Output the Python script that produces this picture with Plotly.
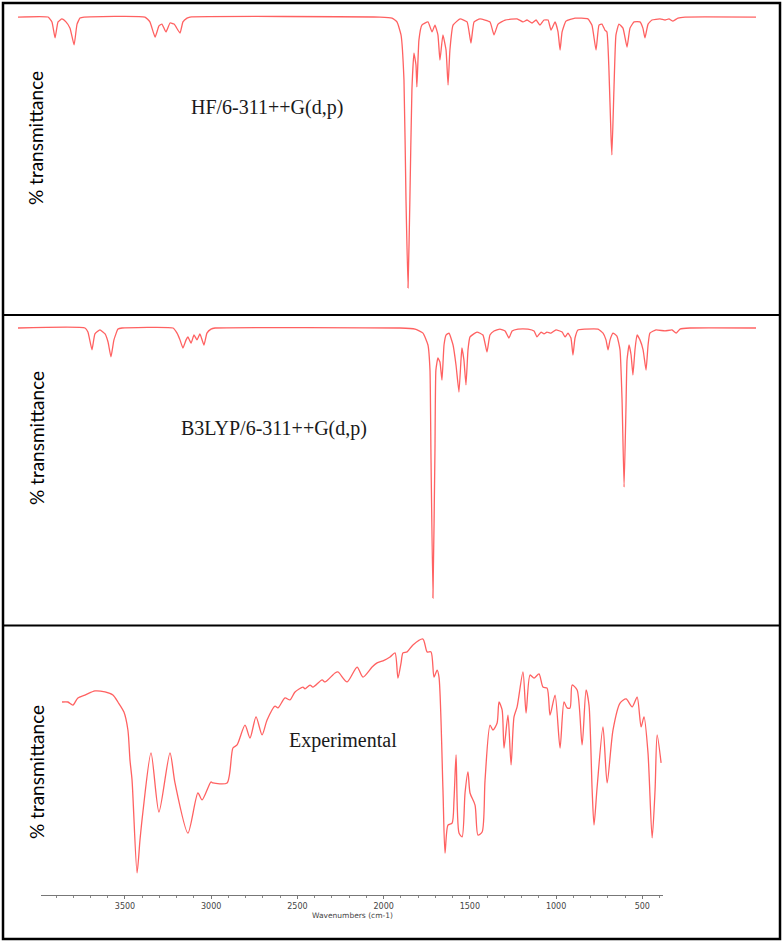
import plotly.graph_objects as go

W, H = 784, 942

# HF/6-311++G(d,p) computed spectrum: wavenumber (cm-1) and % transmittance
hf_wavenumber = [4000, 3837, 3816, 3799, 3783, 3762, 3740, 3718, 3696, 3680, 3664, 3642,
                 3312, 3285, 3257, 3236, 3220, 3198, 3176, 3154, 3122, 3106, 3084, 3068,
                 2038, 1973, 1946, 1924, 1908, 1897, 1886, 1876, 1865, 1854, 1843, 1838,
                 1827, 1811, 1778, 1756, 1740, 1724, 1713, 1697, 1680, 1669, 1659, 1642,
                 1604, 1566, 1545, 1528, 1496, 1442, 1420, 1398, 1360, 1295, 1263, 1241,
                 1214, 1192, 1171, 1149, 1127, 1111, 1089, 1073, 1062, 1051, 1030, 981,
                 911, 889, 867, 851, 835, 819, 808, 797, 786, 781, 770, 759, 743, 721,
                 699, 683, 661, 629, 613, 602, 585, 564, 520, 493, 472, 450, 423, 385, 0]
hf_transmittance = [100, 100, 98.2, 92.3, 98.2, 99.3, 98.2, 95.9, 89.7, 97.4, 99.6, 100,
                    100, 98.2, 92.6, 96.7, 97.4, 94.5, 97.8, 97.4, 94.1, 98.2, 99.6, 100,
                    100, 99.6, 98.2, 93.4, 76.8, 32.5, 0, 32.5, 73.1, 86.7, 82.3, 74.2,
                    91.5, 97.0, 98.2, 94.5, 97.0, 93.4, 84.1, 93.4, 87.8, 74.9, 87.8, 97.0,
                    99.3, 98.2, 90.4, 98.2, 99.3, 98.2, 93.4, 97.4, 98.9, 99.3, 98.2, 98.9,
                    97.8, 98.9, 97.0, 98.9, 98.9, 95.2, 98.2, 94.5, 87.8, 94.5, 98.5, 99.6,
                    99.3, 97.0, 87.8, 97.0, 97.4, 95.2, 94.5, 80.4, 56.5, 49.1, 73.1, 93.4, 97.4, 95.9,
                    88.9, 95.9, 98.2, 98.2, 95.9, 92.3, 97.4, 98.9, 99.3, 98.9, 99.3, 98.5, 99.6, 100, 100]

# B3LYP/6-311++G(d,p) computed spectrum
b3lyp_wavenumber = [4000, 3637, 3621, 3599, 3583, 3556, 3528, 3512, 3496, 3480, 3458, 3436,
                    3160, 3138, 3122, 3106, 3089, 3079, 3062, 3046, 3030, 3014, 2992, 2976,
                    2954, 2932, 1930, 1848, 1805, 1778, 1767, 1762, 1751, 1740, 1735, 1724,
                    1713, 1702, 1691, 1680, 1664, 1642, 1626, 1610, 1599, 1594, 1583, 1572,
                    1561, 1550, 1512, 1480, 1458, 1442, 1420, 1388, 1360, 1339, 1322, 1290,
                    1236, 1203, 1187, 1165, 1149, 1133, 1111, 1084, 1051, 1035, 1019, 1003,
                    992, 981, 965, 927, 856, 829, 813, 802, 791, 775, 754, 737, 726, 715,
                    705, 699, 688, 677, 667, 656, 645, 629, 612, 596, 585, 575, 542, 493,
                    455, 433, 412, 358, 0]
b3lyp_transmittance = [100, 100, 98.5, 91.9, 97.8, 99.3, 97.8, 94.8, 89.3, 95.6, 99.6, 100,
                       100, 98.1, 95.6, 92.6, 95.6, 96.7, 94.4, 97.4, 95.6, 97.8, 93.7, 98.1,
                       99.6, 100, 100, 99.6, 98.1, 93.7, 84.4, 54.8, 0, 54.8, 84.4, 88.9,
                       87.4, 80.7, 93.7, 97.4, 98.1, 93.7, 86.3, 76.3, 88.1, 92.6, 88.1, 78.9,
                       91.9, 96.7, 98.5, 97.4, 91.1, 97.4, 98.9, 99.6, 98.9, 96.3, 98.9, 99.6,
                       99.6, 98.9, 96.7, 98.5, 97.8, 98.5, 98.1, 99.3, 98.5, 96.7, 98.1, 96.3,
                       90.0, 96.3, 99.3, 99.6, 99.6, 98.1, 95.6, 91.9, 95.6, 98.1, 97.0, 91.9, 73.3, 41.1,
                       69.6, 88.1, 93.7, 90.0, 82.6, 91.9, 97.4, 95.6, 91.9, 84.4, 93.7, 98.1, 99.3, 98.9,
                       99.3, 98.1, 99.6, 100, 100]

# Experimental FT-IR spectrum
exp_wavenumber = [3865, 3831, 3802, 3773, 3732, 3674, 3616, 3570, 3541, 3506, 3483, 3471,
                  3459, 3430, 3413, 3396, 3349, 3303, 3239, 3210, 3135, 3077, 3053, 3001,
                  2990, 2908, 2874, 2850, 2804, 2775, 2740, 2705, 2676, 2630, 2613, 2572,
                  2543, 2514, 2468, 2456, 2427, 2410, 2357, 2340, 2282, 2265, 2212, 2154,
                  2120, 2067, 2038, 2004, 1963, 1934, 1917, 1899, 1888, 1864, 1830, 1772,
                  1748, 1725, 1708, 1690, 1679, 1656, 1644, 1627, 1603, 1592, 1580, 1563,
                  1545, 1528, 1511, 1499, 1470, 1453, 1429, 1412, 1383, 1366, 1342, 1331,
                  1313, 1302, 1279, 1261, 1244, 1226, 1192, 1174, 1151, 1128, 1099, 1076,
                  1052, 1035, 1006, 977, 954, 936, 919, 907, 878, 849, 826, 809, 791, 780,
                  762, 728, 704, 670, 629, 594, 559, 530, 507, 490, 467, 443, 426, 414, 391]
exp_transmittance = [75.1, 75.1, 73.9, 76.7, 77.8, 79.4, 79.0, 77.8, 75.1, 71.2, 64.2, 52.5,
                     44.7, 8.6, 21.4, 32.3, 55.3, 32.3, 55.3, 43.6, 24.1, 39.7, 37.0, 44.0,
                     43.6, 43.6, 57.2, 58.4, 66.1, 61.1, 69.3, 62.3, 68.1, 73.5, 72.8, 76.7,
                     75.9, 79.0, 80.9, 80.2, 81.7, 80.9, 83.7, 82.9, 86.4, 86.8, 82.9, 88.7,
                     84.8, 88.7, 90.3, 91.1, 92.6, 94.2, 84.4, 90.3, 94.2, 94.6, 97.3, 99.6,
                     94.6, 94.6, 84.8, 87.5, 84.8, 40.9, 16.3, 27.2, 28.0, 37.0, 54.5, 24.1,
                     22.6, 39.7, 47.9, 39.7, 35.0, 23.3, 24.5, 44.7, 66.1, 64.2, 66.9, 75.1,
                     72.0, 57.2, 70.0, 50.6, 69.3, 73.2, 86.8, 70.8, 85.6, 84.4, 86.0, 80.9,
                     80.5, 70.0, 77.8, 57.2, 75.1, 72.8, 72.8, 81.7, 79.8, 58.4, 79.8, 73.9, 40.9, 27.2,
                     42.0, 65.4, 43.6, 64.2, 74.7, 76.3, 73.2, 77.0, 65.4, 69.3, 55.3, 22.2, 40.9, 62.3, 51.4]

panel_labels = ["HF/6-311++G(d,p)", "B3LYP/6-311++G(d,p)", "Experimental"]
x_tick_values = [3500, 3000, 2500, 2000, 1500, 1000, 500]

CALC_LINE = dict(color="rgba(255,30,30,0.7)", width=1.3, shape="spline", smoothing=0.4)
EXP_LINE = dict(color="rgba(255,30,30,0.7)", width=1.3, shape="spline", smoothing=0.7)


def xdom(left, right):
    return [left / W, right / W]


def ydom(top, bottom):
    return [1 - bottom / H, 1 - top / H]


fig = go.Figure()
fig.add_trace(go.Scatter(x=hf_wavenumber, y=hf_transmittance, mode="lines",
                         line=CALC_LINE, xaxis="x", yaxis="y"))
fig.add_trace(go.Scatter(x=b3lyp_wavenumber, y=b3lyp_transmittance, mode="lines",
                         line=CALC_LINE, xaxis="x2", yaxis="y2"))
fig.add_trace(go.Scatter(x=exp_wavenumber, y=exp_transmittance, mode="lines",
                         line=EXP_LINE, xaxis="x3", yaxis="y3"))

hidden = dict(visible=False, showgrid=False, zeroline=False)
fig.update_layout(
    width=W, height=H, margin=dict(l=0, r=0, t=0, b=0),
    paper_bgcolor="white", plot_bgcolor="white", showlegend=False,
    xaxis=dict(domain=xdom(18, 756), range=[4000, 0], anchor="y", **hidden),
    yaxis=dict(domain=ydom(8.9, 296.1), range=[-3, 103], anchor="x", **hidden),
    xaxis2=dict(domain=xdom(18, 756), range=[4000, 0], anchor="y2", **hidden),
    yaxis2=dict(domain=ydom(319.9, 606.1), range=[-3, 103], anchor="x2", **hidden),
    xaxis3=dict(domain=xdom(41, 663), range=[3987, 380], anchor="y3",
                showline=True, linecolor="#777", linewidth=1,
                ticks="outside", ticklen=3, tickcolor="#777",
                tickvals=x_tick_values, tickfont=dict(family="DejaVu Sans", size=8, color="#444"),
                minor=dict(dtick=100, tick0=0, ticks="outside", ticklen=2, tickcolor="#888"),
                showgrid=False, zeroline=False),
    yaxis3=dict(domain=ydom(630.3, 895), range=[0, 103], anchor="x3", **hidden),
)

# panel frames
fig.add_shape(type="rect", xref="paper", yref="paper",
              x0=3 / W, x1=780 / W, y0=1 - 939 / H, y1=1 - 3 / H,
              line=dict(color="black", width=2.5))
for sep in [315, 625.5]:
    fig.add_shape(type="line", xref="paper", yref="paper",
                  x0=3 / W, x1=780 / W, y0=1 - sep / H, y1=1 - sep / H,
                  line=dict(color="black", width=2))

# y titles
for yc in [138, 438, 772]:
    fig.add_annotation(text="% transmittance", xref="paper", yref="paper",
                       x=36 / W, y=1 - yc / H, textangle=-90, showarrow=False,
                       xanchor="center", yanchor="middle",
                       font=dict(family="Lato", size=19, color="black"))

# panel labels
for label, (px, py) in zip(panel_labels, [(266.5, 108), (274, 428), (343, 740)]):
    fig.add_annotation(text=label, xref="paper", yref="paper",
                       x=px / W, y=1 - py / H, showarrow=False,
                       xanchor="center", yanchor="middle",
                       font=dict(family="Liberation Serif", size=20, color="#1a1a1a"))

fig.add_annotation(text="Wavenumbers (cm-1)", xref="paper", yref="paper",
                   x=352 / W, y=1 - 915 / H, showarrow=False,
                   xanchor="center", yanchor="middle",
                   font=dict(family="DejaVu Sans", size=7.5, color="#444"))

# drop the browser's default page margin so the figure sits at the window origin
fig.write_html("out.html", config={"displayModeBar": False},
               post_script="document.body.style.margin='0';")
